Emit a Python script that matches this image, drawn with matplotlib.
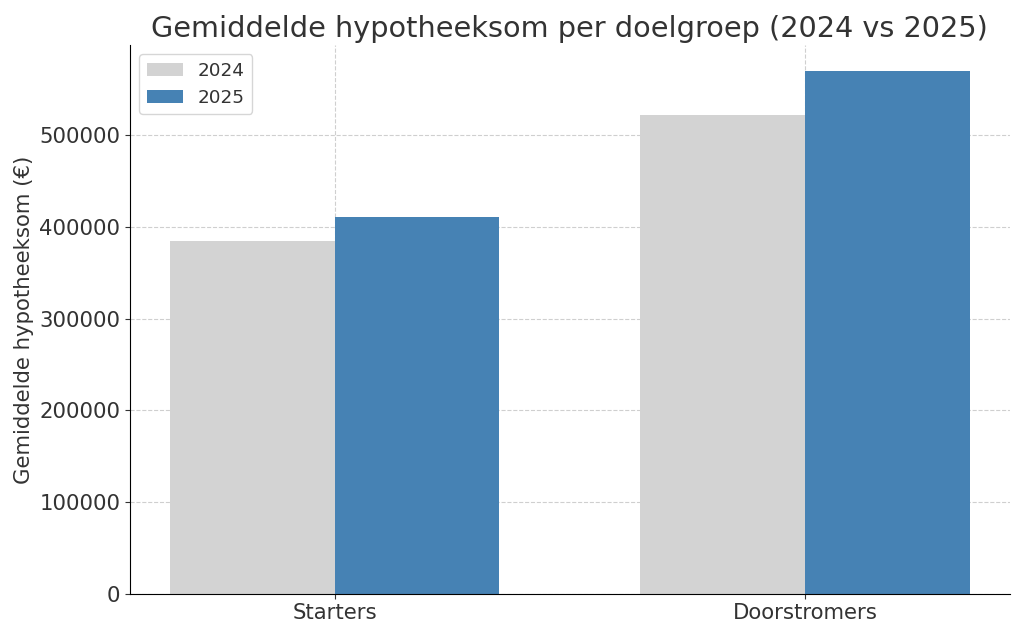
import matplotlib
matplotlib.use("Agg")
import matplotlib.pyplot as plt
import numpy as np

groepen = ["Starters", "Doorstromers"]
jaren = ["2024", "2025"]
waarden_2024 = [385000, 522000]
waarden_2025 = [411000, 570000]

plt.rcParams["text.color"] = "#333333"
plt.rcParams["axes.labelcolor"] = "#333333"
plt.rcParams["xtick.color"] = "#333333"
plt.rcParams["ytick.color"] = "#333333"

fig, ax = plt.subplots(figsize=(10.24, 6.35), dpi=100)
x = np.arange(len(groepen))
breedte = 0.35

ax.bar(x - breedte / 2, waarden_2024, breedte, label=jaren[0], color="lightgray")
ax.bar(x + breedte / 2, waarden_2025, breedte, label=jaren[1], color="steelblue")

ax.set_title("Gemiddelde hypotheeksom per doelgroep (2024 vs 2025)", fontsize=20.7)
ax.set_ylabel("Gemiddelde hypotheeksom (€)", fontsize=15.3)
ax.set_xticks(x)
ax.set_xticklabels(groepen, fontsize=15.3)
ax.tick_params(axis="y", labelsize=15.3)
ax.legend(fontsize=13.2, loc="upper left")
ax.grid(True, linestyle="--", alpha=0.6)
ax.set_axisbelow(True)
ax.spines["top"].set_visible(False)
ax.spines["right"].set_visible(False)

plt.subplots_adjust(left=0.127, right=0.986, top=0.929, bottom=0.065)
plt.savefig("out.png")
